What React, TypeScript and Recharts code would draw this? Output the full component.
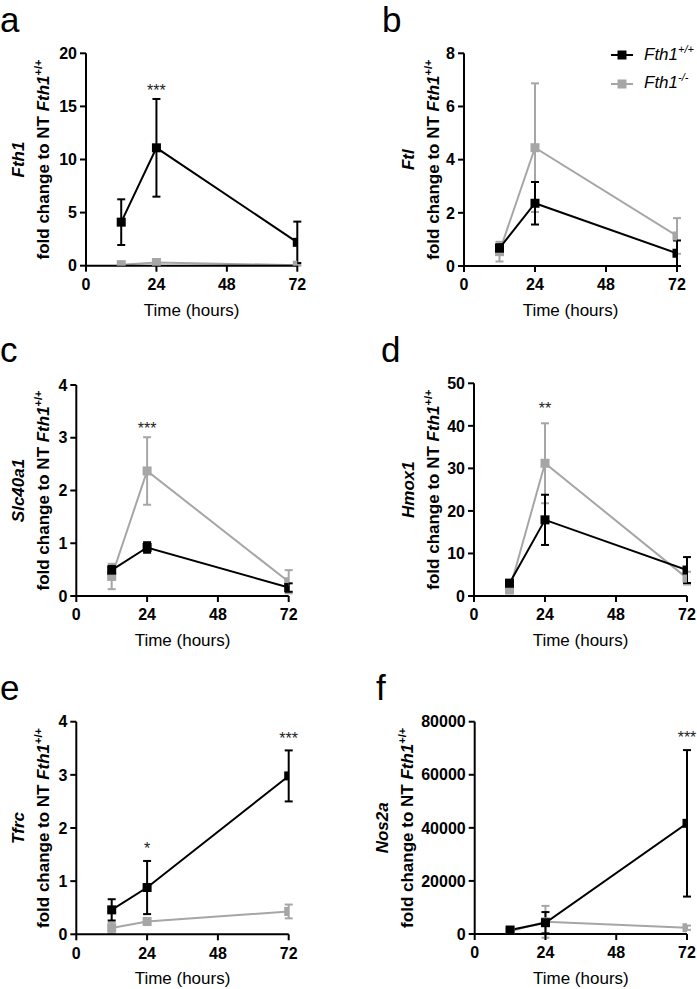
import { LineChart, Line, XAxis, YAxis, ErrorBar, ReferenceDot, Legend } from "recharts";

const hours = [12, 24, 72];
const xTicks = [0, 24, 48, 72];

const BLACK = "#000000";
const GRAY = "#a6a6a6";
const FONT = "'Liberation Sans', Arial, sans-serif";

// a - Fth1
const fth1Wt = [4.1, 11.1, 2.2];
const fth1WtSd = [2.15, 4.6, 1.95];
const fth1Ko = [0.1, 0.3, 0.05];
const fth1KoSd = [0.05, 0.1, 0.05];
const fth1Ticks = [0, 5, 10, 15, 20];
const fth1Stars = [{ t: 24, y: 16.5, text: "***" }];

// b - Ftl
const ftlWt = [0.67, 2.36, 0.48];
const ftlWtSd = [0.15, 0.8, 0.48];
const ftlKo = [0.54, 4.45, 1.13];
const ftlKoSd = [0.37, 2.42, 0.67];
const ftlTicks = [0, 2, 4, 6, 8];
const ftlStars: { t: number; y: number; text: string }[] = [];

// c - Slc40a1
const slcWt = [0.49, 0.92, 0.16];
const slcWtSd = [0.08, 0.1, 0.08];
const slcKo = [0.37, 2.37, 0.27];
const slcKoSd = [0.24, 0.64, 0.22];
const slcTicks = [0, 1, 2, 3, 4];
const slcStars = [{ t: 24, y: 3.18, text: "***" }];

// d - Hmox1
const hmoxWt = [3, 17.9, 6.1];
const hmoxWtSd = [0.8, 5.9, 3.05];
const hmoxKo = [1.4, 31.2, 4.2];
const hmoxKoSd = [0.5, 9.4, 1.5];
const hmoxTicks = [0, 10, 20, 30, 40, 50];
const hmoxStars = [{ t: 24, y: 44.1, text: "**" }];

// e - Tfrc
const tfrcWt = [0.46, 0.88, 2.98];
const tfrcWtSd = [0.2, 0.5, 0.48];
const tfrcKo = [0.12, 0.24, 0.43];
const tfrcKoSd = [0.1, 0.05, 0.13];
const tfrcTicks = [0, 1, 2, 3, 4];
const tfrcStars = [
  { t: 24, y: 1.61, text: "*" },
  { t: 72, y: 3.68, text: "***" },
];

// f - Nos2a
const nosWt = [1500, 4260, 41700];
const nosWtSd = [500, 4000, 27600];
const nosKo = [1000, 4600, 2370];
const nosKoSd = [500, 6000, 800];
const nosTicks = [0, 20000, 40000, 60000, 80000];
const nosStars = [{ t: 72, y: 74000, text: "***" }];

const legendItems = [
  { sup: "+/+", color: BLACK },
  { sup: "-/-", color: GRAY },
];

const panels = [
  { letter: "a", gene: "Fth1", wt: fth1Wt, wtSd: fth1WtSd, ko: fth1Ko, koSd: fth1KoSd, ticks: fth1Ticks, stars: fth1Stars,
    ox: 0, oy: 30, left: 86, right: 297.3, top: 53.3, bottom: 265.7, labOff: 43, lx: 0, ly: 32, legend: false },
  { letter: "b", gene: "Ftl", wt: ftlWt, wtSd: ftlWtSd, ko: ftlKo, koSd: ftlKoSd, ticks: ftlTicks, stars: ftlStars,
    ox: 360, oy: 30, left: 464, right: 677, top: 53.3, bottom: 266, labOff: 31, lx: 382, ly: 32, legend: true },
  { letter: "c", gene: "Slc40a1", wt: slcWt, wtSd: slcWtSd, ko: slcKo, koSd: slcKoSd, ticks: slcTicks, stars: slcStars,
    ox: 0, oy: 362, left: 76.3, right: 288.7, top: 385, bottom: 596, labOff: 33, lx: 0, ly: 362, legend: false },
  { letter: "d", gene: "Hmox1", wt: hmoxWt, wtSd: hmoxWtSd, ko: hmoxKo, koSd: hmoxKoSd, ticks: hmoxTicks, stars: hmoxStars,
    ox: 360, oy: 362, left: 474, right: 687, top: 383.3, bottom: 596, labOff: 41, lx: 381, ly: 362, legend: false },
  { letter: "e", gene: "Tfrc", wt: tfrcWt, wtSd: tfrcWtSd, ko: tfrcKo, koSd: tfrcKoSd, ticks: tfrcTicks, stars: tfrcStars,
    ox: 0, oy: 702, left: 76.3, right: 288.7, top: 721.7, bottom: 934.3, labOff: 33, lx: 0, ly: 700, legend: false },
  { letter: "f", gene: "Nos2a", wt: nosWt, wtSd: nosWtSd, ko: nosKo, koSd: nosKoSd, ticks: nosTicks, stars: nosStars,
    ox: 360, oy: 702, left: 474.7, right: 687, top: 721.7, bottom: 934, labOff: 68, lx: 376, ly: 700, legend: false },
];

function squareDot(color: string) {
  return (props: any) => (
    <rect key={`dot-${props.index}`} x={props.cx - 4.5} y={props.cy - 4.5} width={9} height={9} fill={color} />
  );
}

function LegendBox() {
  return (
    <div style={{ fontFamily: FONT }}>
      {legendItems.map((it) => (
        <div key={it.sup} style={{ display: "flex", alignItems: "center", height: 28.5 }}>
          <svg width={22} height={12}>
            <line x1={0} y1={6} x2={22} y2={6} stroke={it.color} strokeWidth={2} />
            <rect x={6.5} y={1.5} width={9} height={9} fill={it.color} />
          </svg>
          <span style={{ marginLeft: 11, fontStyle: "italic", fontSize: 17, color: "#000", lineHeight: "17px" }}>
            Fth1
            <span style={{ fontSize: 11, position: "relative", top: -7 }}>{it.sup}</span>
          </span>
        </div>
      ))}
    </div>
  );
}

function Panel({ p }: { p: any }) {
  const W = p.ox === 0 ? 340 : 337;
  const H = p.bottom + 58 - p.oy;
  const rows = hours.map((t, i) => ({ t, wt: p.wt[i], wtSd: p.wtSd[i], ko: p.ko[i], koSd: p.koSd[i] }));
  const axisX = p.left - p.ox;
  const midY = (p.top + p.bottom) / 2 - p.oy;
  const midX = (p.left + p.right) / 2 - p.ox;
  const baseY = p.bottom - p.oy;
  const tick = { fill: "#000", fontSize: 16, fontWeight: "bold" };
  const line = { stroke: "#000", strokeWidth: 2 };

  const yLabel = (
    <g>
      <text
        transform={`translate(${axisX - p.labOff - 25},${midY}) rotate(-90)`}
        textAnchor="middle"
        dy="0.35em"
        fontSize={17}
        fontWeight="bold"
        fontStyle="italic"
        fill="#000"
      >
        {p.gene}
      </text>
      <text
        transform={`translate(${axisX - p.labOff},${midY}) rotate(-90)`}
        textAnchor="middle"
        dy="0.35em"
        fontSize={17}
        fontWeight="bold"
        fill="#000"
      >
        fold change to NT <tspan fontStyle="italic">Fth1</tspan>
        <tspan fontSize={11} dy={-7}>+/+</tspan>
      </text>
    </g>
  );

  const xLabel = (
    <text x={midX} y={baseY + 50} textAnchor="middle" fontSize={17} fill="#000">
      Time (hours)
    </text>
  );

  return (
    <div style={{ position: "absolute", left: p.ox, top: p.oy }}>
      <LineChart
        width={W}
        height={H}
        data={rows}
        margin={{ top: p.top - p.oy, right: p.ox + W - p.right, bottom: 8, left: 0 }}
      >
        <XAxis
          dataKey="t"
          type="number"
          domain={[0, 72]}
          ticks={xTicks}
          allowDataOverflow
          height={50}
          tick={tick}
          tickSize={6}
          tickMargin={7}
          axisLine={line}
          tickLine={line}
          label={() => xLabel}
        />
        <YAxis
          type="number"
          domain={[0, p.ticks[p.ticks.length - 1]]}
          ticks={p.ticks}
          allowDataOverflow
          interval={0}
          width={axisX}
          tick={tick}
          tickSize={6}
          tickMargin={3}
          axisLine={line}
          tickLine={line}
          label={() => yLabel}
        />
        <Line dataKey="ko" stroke={GRAY} strokeWidth={2} dot={squareDot(GRAY)} isAnimationActive={false}>
          <ErrorBar dataKey="koSd" direction="y" width={4} stroke={GRAY} strokeWidth={2} />
        </Line>
        <Line dataKey="wt" stroke={BLACK} strokeWidth={2} dot={squareDot(BLACK)} isAnimationActive={false}>
          <ErrorBar dataKey="wtSd" direction="y" width={4} stroke={BLACK} strokeWidth={2} />
        </Line>
        {p.stars.map((s: any, i: number) => (
          <ReferenceDot
            key={i}
            x={s.t}
            y={s.y}
            r={0}
            fill="none"
            stroke="none"
            label={{ value: s.text, position: "center", fontSize: 16, fill: "#222" }}
          />
        ))}
        {p.legend && (
          <Legend
            layout="horizontal"
            verticalAlign="middle"
            align="center"
            wrapperStyle={{ left: 251, top: 10.75, width: 90 }}
            content={() => <LegendBox />}
          />
        )}
      </LineChart>
    </div>
  );
}

export default function App() {
  return (
    <div
      style={{
        position: "absolute",
        left: 0,
        top: 0,
        width: 697,
        height: 989,
        overflow: "hidden",
        background: "#fff",
        fontFamily: FONT,
      }}
    >
      {panels.map((p) => (
        <Panel key={p.letter} p={p} />
      ))}
      <svg width={697} height={989} style={{ position: "absolute", left: 0, top: 0, pointerEvents: "none" }}>
        {panels.map((p) => (
          <text key={p.letter} x={p.lx} y={p.ly} fontSize={35} fill="#000" fontFamily={FONT}>
            {p.letter}
          </text>
        ))}
      </svg>
    </div>
  );
}
